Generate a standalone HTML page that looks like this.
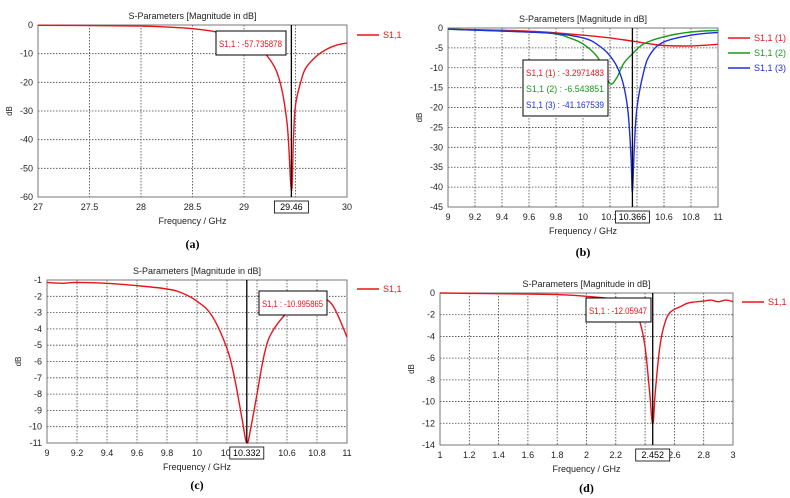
<!DOCTYPE html>
<html><head><meta charset="utf-8">
<style>
html,body{margin:0;padding:0;background:#fff;}
svg{display:block;font-family:"Liberation Sans",sans-serif;}
</style></head>
<body>
<svg id="fig" width="790" height="498" viewBox="0 0 790 498" xmlns="http://www.w3.org/2000/svg"></svg>
<script>
// Panel (a)
const aFreq=[27,27.5,28,28.3,28.5,28.7,28.9,29.1,29.25,29.35,29.42,29.46,29.48,29.5,29.55,29.6,29.7,29.8,29.9,30];
const aS11=[-0.1,-0.2,-0.4,-0.8,-1.3,-2.2,-4,-7,-12,-20,-35,-57.7,-40,-28,-20,-15,-11,-8.5,-7,-6.3];
const aXTicks=[27,27.5,28,28.5,29,29.5,30];
const aXLabels=["27","27.5","28","28.5","29","","30"];
const aYTicks=[0,-10,-20,-30,-40,-50,-60];
// Panel (b)
const bFreq1=[9,9.6,10,10.2,10.366,10.5,10.6,10.8,11];
const bS11a=[-0.3,-0.8,-1.8,-2.5,-3.3,-4,-4.4,-4.5,-4.1];
const bFreq2=[9,9.6,9.8,9.9,10,10.1,10.15,10.2,10.25,10.3,10.366,10.45,10.6,10.8,11];
const bS11b=[-0.3,-1,-1.5,-2.5,-4,-7,-10,-14,-12.5,-9,-6.5,-4,-2.2,-1,-0.6];
const bFreq3=[9,9.6,9.8,10,10.1,10.2,10.28,10.33,10.355,10.366,10.38,10.4,10.45,10.5,10.6,10.8,11];
const bS11c=[-0.3,-1,-1.4,-2.5,-4,-7,-12,-20,-32,-41.2,-30,-20,-11,-6.5,-3.5,-1.8,-1.1];
const bXTicks=[9,9.2,9.4,9.6,9.8,10,10.2,10.4,10.6,10.8,11];
const bXLabels=["9","9.2","9.4","9.6","9.8","10","10.2","","10.6","10.8","11"];
const bYTicks=[0,-5,-10,-15,-20,-25,-30,-35,-40,-45];
// Panel (c)
const cFreq=[9,9.1,9.2,9.4,9.6,9.8,9.9,10,10.1,10.2,10.25,10.3,10.332,10.36,10.4,10.45,10.5,10.6,10.7,10.8,10.9,11];
const cS11=[-1.15,-1.2,-1.15,-1.2,-1.35,-1.55,-1.8,-2.3,-3.2,-5.2,-7,-9.5,-11,-10,-8,-5.5,-4.2,-3,-2.3,-2.1,-2.5,-4.5];
const cXTicks=[9,9.2,9.4,9.6,9.8,10,10.2,10.4,10.6,10.8,11];
const cXLabels=["9","9.2","9.4","9.6","9.8","10","10.","","10.6","10.8","11"];
const cYTicks=[-1,-2,-3,-4,-5,-6,-7,-8,-9,-10,-11];
// Panel (d)
const dFreq=[1,1.6,1.8,2,2.2,2.3,2.36,2.4,2.43,2.452,2.47,2.5,2.53,2.57,2.65,2.7,2.8,2.85,2.9,2.95,3];
const dS11=[0,-0.1,-0.15,-0.3,-0.6,-1.2,-2.5,-5,-9,-12.06,-9,-5,-3,-1.8,-1.2,-0.9,-0.75,-0.65,-0.8,-0.65,-0.8];
const dXTicks=[1,1.2,1.4,1.6,1.8,2,2.2,2.4,2.6,2.8,3];
const dXLabels=["1","1.2","1.4","1.6","1.8","2","2.2","","2.6","2.8","3"];
const dYTicks=[0,-2,-4,-6,-8,-10,-12,-14];

const NS="http://www.w3.org/2000/svg";
const svg=document.getElementById('fig');
function mk(parent,tag,attrs,text){const e=document.createElementNS(NS,tag);for(const k in attrs)e.setAttribute(k,attrs[k]);if(text!==undefined)e.textContent=text;parent.appendChild(e);return e;}

function smooth(pts){
  let d='M'+pts[0][0].toFixed(1)+','+pts[0][1].toFixed(1);
  for(let i=0;i<pts.length-1;i++){
    const p0=pts[Math.max(0,i-1)],p1=pts[i],p2=pts[i+1],p3=pts[Math.min(pts.length-1,i+2)];
    const t=0.18;
    const c1=[p1[0]+(p2[0]-p0[0])*t,p1[1]+(p2[1]-p0[1])*t];
    const c2=[p2[0]-(p3[0]-p1[0])*t,p2[1]-(p3[1]-p1[1])*t];
    d+=` C${c1[0].toFixed(1)},${c1[1].toFixed(1)} ${c2[0].toFixed(1)},${c2[1].toFixed(1)} ${p2[0].toFixed(1)},${p2[1].toFixed(1)}`;
  }
  return d;
}

function panel(p){
  const g=mk(svg,'g',{});
  
  
  const sx=v=>p.x0+(v-p.xmin)/(p.xmax-p.xmin)*(p.x1-p.x0);
  const sy=v=>p.y0+(p.ymax-v)/(p.ymax-p.ymin)*(p.y1-p.y0);
  const t=mk(g,'text',{x:(p.x0+p.x1)/2,y:p.y0-6,'font-size':9,'text-anchor':'middle',fill:'#222'},'S-Parameters [Magnitude in dB]');
  
  p.xt.forEach((v,i)=>{
    const l=mk(g,'line',{x1:sx(v),x2:sx(v),y1:p.y0,y2:p.y1,stroke:'#444','stroke-width':0.8,'stroke-dasharray':'1.5,1.5'});
    
    const tx=mk(g,'text',{x:sx(v),y:p.y1+13,'font-size':9,'text-anchor':'middle',fill:'#222'},p.xl[i]);
    
  });
  p.yt.forEach(v=>{
    const l=mk(g,'line',{x1:p.x0,x2:p.x1,y1:sy(v),y2:sy(v),stroke:'#444','stroke-width':0.8,'stroke-dasharray':'1.5,1.5'});
    
    const ty=mk(g,'text',{x:p.x0-5,y:sy(v)+3,'font-size':9,'text-anchor':'end',fill:'#222'},String(v));
    
  });
  const fr=mk(g,'rect',{x:p.x0,y:p.y0,width:p.x1-p.x0,height:p.y1-p.y0,fill:'none',stroke:'#777','stroke-width':1});
  
  const yl=mk(g,'text',{x:p.x0-26,y:(p.y0+p.y1)/2,'font-size':8,'text-anchor':'middle',fill:'#222',transform:`rotate(-90 ${p.x0-26} ${(p.y0+p.y1)/2})`},'dB');
  
  const xl=mk(g,'text',{x:(p.x0+p.x1)/2,y:p.y1+27,'font-size':9,'text-anchor':'middle',fill:'#222'},'Frequency / GHz');
  
  const cap=mk(g,'text',{x:(p.x0+p.x1)/2,y:p.capY,'font-size':12,'font-weight':'bold','font-family':'Liberation Serif,serif','text-anchor':'middle',fill:'#000'},p.cap);
  
  p.series.forEach((s,i)=>{
    const pts=s.x.map((v,j)=>[sx(v),sy(s.y[j])]);
    const pa=mk(g,'path',{d:smooth(pts),fill:'none',stroke:s.c,'stroke-width':1.4});
    
    const ly=p.legY+i*15;
    const ll=mk(g,'line',{x1:p.legX,x2:p.legX+22,y1:ly,y2:ly,stroke:s.c,'stroke-width':1.5});
    
    const lt=mk(g,'text',{x:p.legX+26,y:ly+3,'font-size':9,fill:s.c},s.n);
    
  });
  const ml=mk(g,'line',{x1:sx(p.mark),x2:sx(p.mark),y1:p.y0,y2:p.y1,stroke:'#000','stroke-width':1.3});
  
  const mb=mk(g,'rect',{x:sx(p.mark)-17,y:p.y1+4,width:34,height:12,fill:'#fff',stroke:'#000','stroke-width':0.8});
  
  const mt=mk(g,'text',{x:sx(p.mark),y:p.y1+13,'font-size':9,'text-anchor':'middle',fill:'#000'},String(p.mark));
  
  const bh=p.ann.length*16+8;
  const ab=mk(g,'rect',{x:p.annX,y:p.annY,width:p.annW,height:bh,fill:'#fff',stroke:'#000','stroke-width':1});
  
  p.ann.forEach((a,i)=>{
    const at=mk(g,'text',{x:p.annX+3,y:p.annY+16+i*16,'font-size':9,fill:a[1],textLength:p.annW-7,lengthAdjust:'spacingAndGlyphs'},a[0]);
    
  });
}

panel({name:'panel-a',x0:38,x1:347,y0:25,y1:197,xmin:27,xmax:30,ymin:-60,ymax:0,xt:aXTicks,xl:aXLabels,yt:aYTicks,
  mark:29.46,cap:'(a)',capY:248,legX:357,legY:35,
  series:[{x:aFreq,y:aS11,c:'#e8141c',n:'S1,1'}],
  annX:216,annY:31,annW:70,ann:[['S1,1 : -57.735878','#e8141c']]});
panel({name:'panel-b',x0:448,x1:718,y0:28,y1:207,xmin:9,xmax:11,ymin:-45,ymax:0,xt:bXTicks,xl:bXLabels,yt:bYTicks,
  mark:10.366,cap:'(b)',capY:256,legX:728,legY:38,
  series:[{x:bFreq1,y:bS11a,c:'#e8141c',n:'S1,1 (1)'},{x:bFreq2,y:bS11b,c:'#1a9a1a',n:'S1,1 (2)'},{x:bFreq3,y:bS11c,c:'#1e2ee0',n:'S1,1 (3)'}],
  annX:523,annY:60,annW:85,ann:[['S1,1 (1) : -3.2971483','#e8141c'],['S1,1 (2) : -6.543851','#1a9a1a'],['S1,1 (3) : -41.167539','#1e2ee0']]});
panel({name:'panel-c',x0:47,x1:347,y0:280,y1:443,xmin:9,xmax:11,ymin:-11,ymax:-1,xt:cXTicks,xl:cXLabels,yt:cYTicks,
  mark:10.332,cap:'(c)',capY:489,legX:357,legY:289,
  series:[{x:cFreq,y:cS11,c:'#e8141c',n:'S1,1'}],
  annX:259,annY:291,annW:68,ann:[['S1,1 : -10.995865','#e8141c']]});
panel({name:'panel-d',x0:440,x1:733,y0:293,y1:445,xmin:1,xmax:3,ymin:-14,ymax:0,xt:dXTicks,xl:dXLabels,yt:dYTicks,
  mark:2.452,cap:'(d)',capY:492,legX:742,legY:302,
  series:[{x:dFreq,y:dS11,c:'#e8141c',n:'S1,1'}],
  annX:586,annY:298,annW:65,ann:[['S1,1 : -12.05947','#e8141c']]});
</script>
</body></html>
